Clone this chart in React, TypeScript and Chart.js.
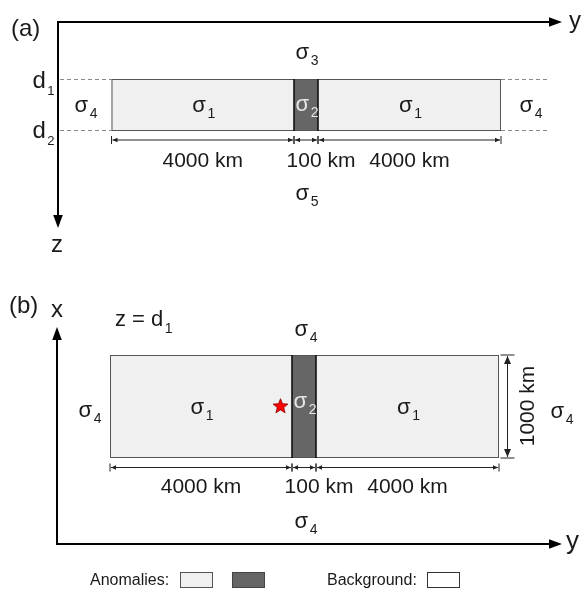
import React, { useEffect, useRef } from "react";
import { Chart, registerables } from "chart.js";

Chart.register(...registerables);

// ---- data ----
const segmentSubs = ["1", "2", "1"]; // conductivity index of each block (σ1 | σ2 | σ1)
const segmentKm = [4000, 100, 4000]; // block widths along y
const anomalyWidthKm = 1000; // extent along x (panel b)
const depthSubs = ["1", "2"]; // d1, d2
const panelASideSub = "4";
const panelATopSub = "3";
const panelABottomSub = "5";
const panelBAroundSub = "4";
const panelTitles = ["(a)", "(b)"];
const axisNames = ["y", "z", "x"];
const legendLabels = ["Anomalies:", "Background:"];

const W = 585;
const H = 589;
const FF = 'Arial, "Liberation Sans", sans-serif';
const LIGHT = "#f0f0f0";
const DARK = "#666666";
const TXT = "#1a1a1a";

function App() {
  const ref = useRef<HTMLCanvasElement | null>(null);

  useEffect(() => {
    const canvas = ref.current;
    if (!canvas) return;

    const diagram = {
      id: "diagram",
      beforeDraw(chart: any) {
        const c = chart.ctx;
        c.save();
        c.fillStyle = "#ffffff";
        c.fillRect(0, 0, chart.width, chart.height);
        c.restore();
      },
      afterDraw(chart: any) {
        const c: CanvasRenderingContext2D = chart.ctx;
        const sx = chart.scales.x;
        const sy = chart.scales.y;
        const X = (v: number) => sx.getPixelForValue(v);
        const Y = (v: number) => sy.getPixelForValue(v);

        const head = (tx: number, ty: number, dx: number, dy: number, len: number, hw: number, col = "#000") => {
          const bx = tx - dx * len;
          const by = ty - dy * len;
          c.beginPath();
          c.moveTo(X(tx), Y(ty));
          c.lineTo(X(bx - dy * hw), Y(by + dx * hw));
          c.lineTo(X(bx + dy * hw), Y(by - dx * hw));
          c.closePath();
          c.fillStyle = col;
          c.fill();
        };

        const line = (x1: number, y1: number, x2: number, y2: number, w = 1, col = "#000", dash: number[] = []) => {
          c.save();
          c.beginPath();
          c.setLineDash(dash);
          c.strokeStyle = col;
          c.lineWidth = w;
          c.moveTo(X(x1), Y(y1));
          c.lineTo(X(x2), Y(y2));
          c.stroke();
          c.restore();
        };

        const text = (s: string, x: number, y: number, size: number, align: CanvasTextAlign = "center", col = TXT) => {
          c.font = `${size}px ${FF}`;
          c.fillStyle = col;
          c.textAlign = align;
          c.textBaseline = "alphabetic";
          c.fillText(s, X(x), Y(y));
        };

        const sub = (main: string, s: string, cx: number, base: number, col = TXT, mainSize = 22, subSize = 14) => {
          c.font = `${mainSize}px ${FF}`;
          const w1 = c.measureText(main).width;
          c.font = `${subSize}px ${FF}`;
          const w2 = c.measureText(s).width;
          const gap = 1.5;
          const start = X(cx) - (w1 + gap + w2) / 2;
          c.fillStyle = col;
          c.textAlign = "left";
          c.textBaseline = "alphabetic";
          c.font = `${mainSize}px ${FF}`;
          c.fillText(main, start, Y(base));
          c.font = `${subSize}px ${FF}`;
          c.fillText(s, start + w1 + gap, Y(base) + 6);
        };

        const subLeft = (main: string, s: string, left: number, base: number, size = 22, subSize = 14) => {
          c.font = `${size}px ${FF}`;
          const w1 = c.measureText(main).width;
          c.fillStyle = TXT;
          c.textAlign = "left";
          c.textBaseline = "alphabetic";
          c.fillText(main, X(left), Y(base));
          c.font = `${subSize}px ${FF}`;
          c.fillText(s, X(left) + w1 + 1.5, Y(base) + 7);
        };

        const dimH = (x1: number, x2: number, y: number) => {
          line(x1, y - 4, x1, y + 4, 1, "#222");
          line(x2, y - 4, x2, y + 4, 1, "#222");
          line(x1 + 1, y, x2 - 1, y, 1, "#222");
          head(x1 + 1, y, -1, 0, 5, 2.3, "#222");
          head(x2 - 1, y, 1, 0, 5, 2.3, "#222");
        };

        const dimV = (x: number, y1: number, y2: number) => {
          line(x - 7, y1, x + 7, y1, 1, "#222");
          line(x - 7, y2, x + 7, y2, 1, "#222");
          line(x, y1 + 1, x, y2 - 1, 1, "#222");
          head(x, y1 + 1, 0, -1, 8, 3.5, "#222");
          head(x, y2 - 1, 0, 1, 8, 3.5, "#222");
        };

        const blocks = (xs: number[], top: number, bot: number) => {
          for (let i = 0; i < segmentSubs.length; i++) {
            const dark = segmentSubs[i] === "2";
            const x1 = X(xs[i]);
            const x2 = X(xs[i + 1]);
            c.fillStyle = dark ? DARK : LIGHT;
            c.fillRect(x1, Y(top), x2 - x1, Y(bot) - Y(top));
          }
          c.save();
          c.strokeStyle = "#555";
          c.lineWidth = 1;
          c.strokeRect(X(xs[0]) + 0.5, Y(top) + 0.5, X(xs[3]) - X(xs[0]) - 1, Y(bot) - Y(top) - 1);
          c.restore();
          for (let i = 0; i < segmentSubs.length; i++) {
            if (segmentSubs[i] === "2") {
              line(xs[i], top, xs[i], bot, 1.6, "#111");
              line(xs[i + 1], top, xs[i + 1], bot, 1.6, "#111");
            }
          }
        };

        const blockLabels = (xs: number[], base: number, darkBase: number) => {
          for (let i = 0; i < segmentSubs.length; i++) {
            const dark = segmentSubs[i] === "2";
            const mid = (xs[i] + xs[i + 1]) / 2;
            if (dark) sub("σ", segmentSubs[i], mid + 1, darkBase, "#e6e6e6");
            else sub("σ", segmentSubs[i], mid + 1, base);
          }
        };

        const dims = (xs: number[], y: number, base: number) => {
          for (let i = 0; i < segmentKm.length; i++) {
            dimH(xs[i], xs[i + 1], y);
            const mid = (xs[i] + xs[i + 1]) / 2;
            const off = segmentKm[i] < 1000 ? 15 : 0;
            text(`${segmentKm[i]} km`, mid + off, base, 21);
          }
        };

        // ================= panel (a) =================
        text(panelTitles[0], 11, 36, 24, "left");
        // axes
        c.save();
        c.beginPath();
        c.strokeStyle = "#000";
        c.lineWidth = 2;
        c.moveTo(X(551), Y(22));
        c.lineTo(X(58), Y(22));
        c.lineTo(X(58), Y(216));
        c.stroke();
        c.restore();
        head(562, 22, 1, 0, 13, 4.8);
        head(58, 228, 0, 1, 13, 4.8);
        text(axisNames[0], 569, 28, 24, "left");
        text(axisNames[1], 57, 252, 24, "center");

        const xa = [111.5, 294, 318, 501];
        // depth lines
        line(60, 79.5, 547, 79.5, 1, "#8a8a8a", [4, 3]);
        line(60, 130.5, 547, 130.5, 1, "#8a8a8a", [4, 3]);
        blocks(xa, 79, 131);
        blockLabels(xa, 112, 111);
        subLeft("d", depthSubs[0], 32.5, 88, 24, 13);
        subLeft("d", depthSubs[1], 32.5, 138, 24, 13);
        sub("σ", panelASideSub, 86, 112);
        sub("σ", panelASideSub, 531, 112);
        sub("σ", panelATopSub, 307, 59);
        dims(xa, 140, 167);
        sub("σ", panelABottomSub, 307, 200);

        // ================= panel (b) =================
        text(panelTitles[1], 9, 313, 24, "left");
        text(axisNames[2], 57, 317, 24, "center");
        c.save();
        c.beginPath();
        c.strokeStyle = "#000";
        c.lineWidth = 2;
        c.moveTo(X(57), Y(338));
        c.lineTo(X(57), Y(544));
        c.lineTo(X(551), Y(544));
        c.stroke();
        c.restore();
        head(57, 327, 0, -1, 13, 4.8);
        head(562, 544, 1, 0, 13, 4.8);
        text(axisNames[0], 566, 549, 26, "left");

        subLeft("z = d", depthSubs[0], 115, 326, 22, 14);

        const xb = [110, 292, 316, 499];
        blocks(xb, 355, 458);
        blockLabels(xb, 414, 408);
        sub("σ", panelBAroundSub, 306, 336);
        sub("σ", panelBAroundSub, 90, 417);
        sub("σ", panelBAroundSub, 562, 418);
        sub("σ", panelBAroundSub, 306, 528);
        dims(xb, 467.5, 493);
        dimV(507.5, 355, 458);
        // rotated width label
        c.save();
        c.translate(X(534), Y(406));
        c.rotate(-Math.PI / 2);
        c.font = `21px ${FF}`;
        c.fillStyle = TXT;
        c.textAlign = "center";
        c.textBaseline = "alphabetic";
        c.fillText(`${anomalyWidthKm} km`, 0, 0);
        c.restore();

        // source star
        const scx = X(280.5);
        const scy = Y(406.5);
        c.save();
        c.beginPath();
        for (let k = 0; k < 10; k++) {
          const r = k % 2 === 0 ? 7.8 : 3.4;
          const a = -Math.PI / 2 + (k * Math.PI) / 5;
          const px = scx + r * Math.cos(a);
          const py = scy + r * Math.sin(a);
          if (k === 0) c.moveTo(px, py);
          else c.lineTo(px, py);
        }
        c.closePath();
        c.fillStyle = "#ff0000";
        c.fill();
        c.strokeStyle = "#8b0000";
        c.lineWidth = 0.8;
        c.stroke();
        c.restore();

        // ================= legend =================
        text(legendLabels[0], 90, 585, 16, "left");
        const box = (x: number, fill: string, stroke: string) => {
          c.fillStyle = fill;
          c.fillRect(X(x), Y(572), 33, 16);
          c.strokeStyle = stroke;
          c.lineWidth = 1;
          c.strokeRect(X(x) + 0.5, Y(572) + 0.5, 32, 15);
        };
        box(180, LIGHT, "#555");
        box(232, DARK, "#444");
        text(legendLabels[1], 327, 585, 16, "left");
        box(427, "#ffffff", "#333");
      },
    };

    const chart = new Chart(canvas, {
      type: "scatter",
      data: { datasets: [] },
      options: {
        animation: false,
        responsive: false,
        maintainAspectRatio: false,
        events: [],
        layout: { padding: 0 },
        plugins: { legend: { display: false }, tooltip: { enabled: false } },
        scales: {
          x: { type: "linear", display: false, min: 0, max: W },
          y: { type: "linear", display: false, min: 0, max: H, reverse: true },
        },
      },
      plugins: [diagram],
    } as any);

    return () => chart.destroy();
  }, []);

  return (
    <div style={{ position: "absolute", left: 0, top: 0, width: W, height: H, background: "#fff" }}>
      <canvas ref={ref} width={W} height={H} style={{ display: "block", width: W, height: H }} />
    </div>
  );
}

export default App;
